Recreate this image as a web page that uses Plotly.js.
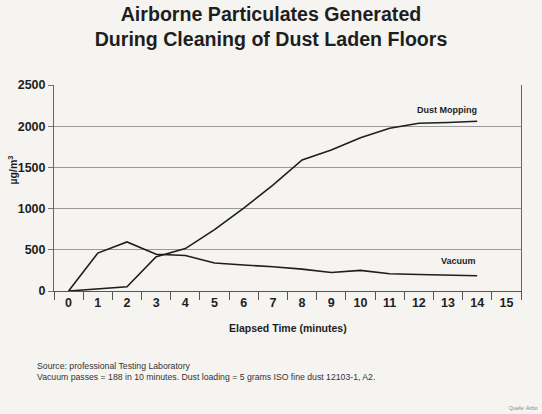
<!DOCTYPE html>
<html>
<head>
<meta charset="utf-8">
<script src="https://cdn.plot.ly/plotly-3.0.1.min.js"></script>
<style>html,body{margin:0;padding:0;background:#f5f4f1;}#chart{width:542px;height:414px;}</style>
</head>
<body>
<div id="chart"></div>
<script>
// Data
const minutes = [0,1,2,3,4,5,6,7,8,9,10,11,12,13,14];
const tickLabels = [0,1,2,3,4,5,6,7,8,9,10,11,12,13,14,15];
const yTicks = [0,500,1000,1500,2000,2500];
const dustMopping = [0,22,52,415,515,745,1005,1285,1590,1710,1860,1975,2035,2045,2060];
const vacuum = [0,460,595,445,430,340,315,295,265,225,250,210,200,195,185];
const seriesNames = ["Dust Mopping","Vacuum"];

const font = "'Liberation Sans', Arial, Helvetica, sans-serif";
const ink = "#1e1e1e";

const traces = [
  {x: minutes, y: dustMopping, name: seriesNames[0], mode: "lines", line: {color: ink, width: 1.6}},
  {x: minutes, y: vacuum, name: seriesNames[1], mode: "lines", line: {color: ink, width: 1.6}}
];

const layout = {
  width: 542, height: 414,
  margin: {l: 54, r: 21, t: 85, b: 123},
  paper_bgcolor: "#f5f4f1", plot_bgcolor: "#f5f4f1",
  showlegend: false,
  font: {family: font, color: ink},
  title: {
    text: "<b>Airborne Particulates Generated<br>During Cleaning of Dust Laden Floors</b>",
    font: {size: 19.6, family: font, color: ink},
    xref: "container", x: 0.5, xanchor: "center",
    yref: "container", y: 0.95, yanchor: "middle"
  },
  xaxis: {
    range: [-0.5, 15.5],
    tickmode: "array", tickvals: tickLabels, ticktext: tickLabels.map(v => "<b>" + v + "</b>"),
    ticks: "", showgrid: false, zeroline: false,
    showline: true, linecolor: "#555", linewidth: 1, mirror: false,
    tickfont: {size: 12.5, family: font, color: ink},
    minor: {tickmode: "linear", tick0: 0.5, dtick: 1, ticks: "outside", ticklen: 8, tickcolor: "#555", tickwidth: 1, showgrid: false}
  },
  yaxis: {
    range: [0, 2500],
    tickmode: "array", tickvals: yTicks,
    ticktext: yTicks.map(v => "<b>" + v + "</b>"),
    ticks: "outside", ticklen: 5, tickcolor: "#777",
    showgrid: true, gridcolor: "#9a9a9a", gridwidth: 1,
    zeroline: false, showline: true, linecolor: "#666", linewidth: 1, mirror: true,
    tickfont: {size: 12.5, family: font, color: ink}
  },
  annotations: [
    {text: "<b>Dust Mopping</b>", x: 12.95, y: 2195, xref: "x", yref: "y", showarrow: false,
     font: {size: 9, family: font, color: ink}},
    {text: "<b>Vacuum</b>", x: 13.35, y: 364, xref: "x", yref: "y", showarrow: false,
     font: {size: 9, family: font, color: ink}},
    {text: "<b>µg/m<sup>3</sup></b>", textangle: -90, xref: "paper", yref: "paper",
     x: -0.09, y: 0.59, xanchor: "center", yanchor: "middle", showarrow: false,
     font: {size: 10.5, family: font, color: ink}},
    {text: "<b>Elapsed Time (minutes)</b>", xref: "paper", yref: "paper", x: 0.5, y: -0.18,
     xanchor: "center", yanchor: "middle", showarrow: false, font: {size: 10.5, family: font, color: ink}},
    {text: "Source: professional Testing Laboratory<br>Vacuum passes = 188 in 10 minutes. Dust loading = 5 grams ISO fine dust 12103-1, A2.",
     xref: "paper", yref: "paper", x: -0.04, y: -0.33, xanchor: "left", yanchor: "top", align: "left",
     showarrow: false, font: {size: 8.7, family: font, color: "#333"}},
    {text: "Quelle: Airbo", xref: "paper", yref: "paper", x: 1.04, y: -0.57, xanchor: "right", yanchor: "middle",
     showarrow: false, font: {size: 5, family: font, color: "#888"}}
  ]
};

Plotly.newPlot("chart", traces, layout, {displayModeBar: false, staticPlot: true});
</script>
</body>
</html>
